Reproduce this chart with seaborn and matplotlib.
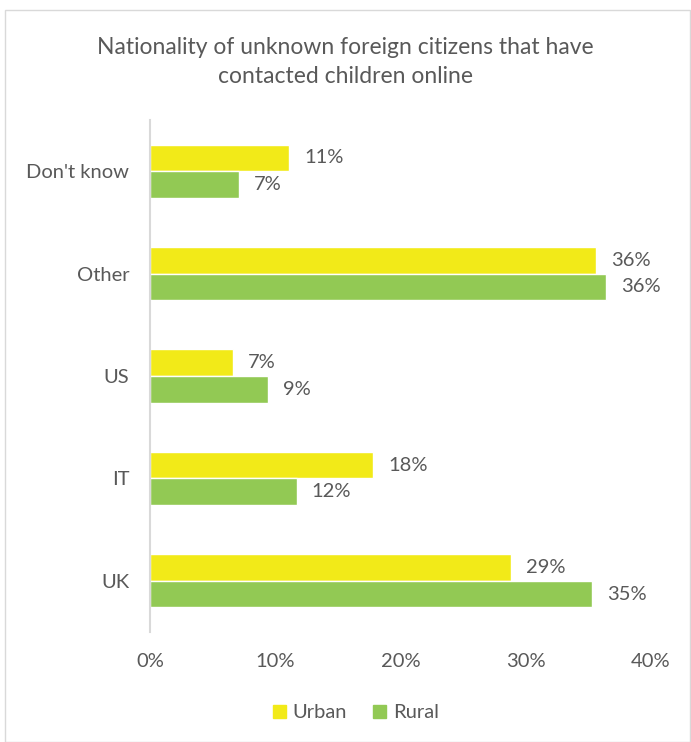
import matplotlib
matplotlib.use("Agg")
import matplotlib.pyplot as plt
import seaborn as sns
import pandas as pd
from matplotlib.patches import Rectangle
from matplotlib.ticker import FuncFormatter

categories = ["Don't know", "Other", "US", "IT", "UK"]
urban = [11.1, 35.6, 6.6, 17.8, 28.8]
rural = [7.1, 36.4, 9.4, 11.7, 35.3]
series = ["Urban", "Rural"]
colors = ["#F2EA18", "#92C954"]
x_ticks = [0, 10, 20, 30, 40]

df = pd.DataFrame({
    "category": categories * 2,
    "area": ["Urban"] * len(categories) + ["Rural"] * len(categories),
    "value": urban + rural,
})

sns.set_theme(style="white")
plt.rcParams["font.family"] = ["Lato", "DejaVu Sans"]
text_color = "#595959"
fs = 14.5

fig = plt.figure(figsize=(6.91, 7.42), dpi=100)
ax = fig.add_axes([150 / 691, 1 - 632 / 742, (651 - 150) / 691, (632 - 120) / 742])

sns.barplot(data=df, y="category", x="value", hue="area", order=categories,
            hue_order=series, palette=colors, orient="h", width=0.52,
            saturation=1, ax=ax, legend=False)

for container in ax.containers:
    ax.bar_label(container, labels=[f"{v:.0f}%" for v in container.datavalues],
                 padding=11, color=text_color, fontsize=fs)

ax.set_xlim(0, 40)
ax.set_ylim(len(categories) - 0.5, -0.5)
ax.set_xticks(x_ticks)
ax.xaxis.set_major_formatter(FuncFormatter(lambda v, p: f"{v:.0f}%"))
ax.set_xlabel("")
ax.set_ylabel("")
ax.tick_params(axis="x", colors=text_color, labelsize=fs, length=0, pad=15)
ax.tick_params(axis="y", colors=text_color, labelsize=fs, length=0, pad=15)
for side in ["top", "right", "bottom"]:
    ax.spines[side].set_visible(False)
ax.spines["left"].set_color("#D9D9D9")
ax.spines["left"].set_linewidth(1.5)

fig.text(0.5, 1 - 62 / 742, "Nationality of unknown foreign citizens that have\ncontacted children online",
         ha="center", va="center", color=text_color, fontsize=16.5, linespacing=1.45)

handles = [Rectangle((0, 0), 1, 1, color=c) for c in colors]
fig.legend(handles, series, loc="center", bbox_to_anchor=(356 / 691, 1 - 713 / 742),
           ncol=2, frameon=False, fontsize=fs, labelcolor=text_color,
           handlelength=0.65, handleheight=0.65, handletextpad=0.35, columnspacing=1.3)

fig.add_artist(Rectangle((5 / 691, 0), 685 / 691, 1 - 10 / 742, transform=fig.transFigure,
                         fill=False, edgecolor="#D9D9D9", linewidth=1))

fig.savefig("out.png", dpi=100, facecolor="white")
